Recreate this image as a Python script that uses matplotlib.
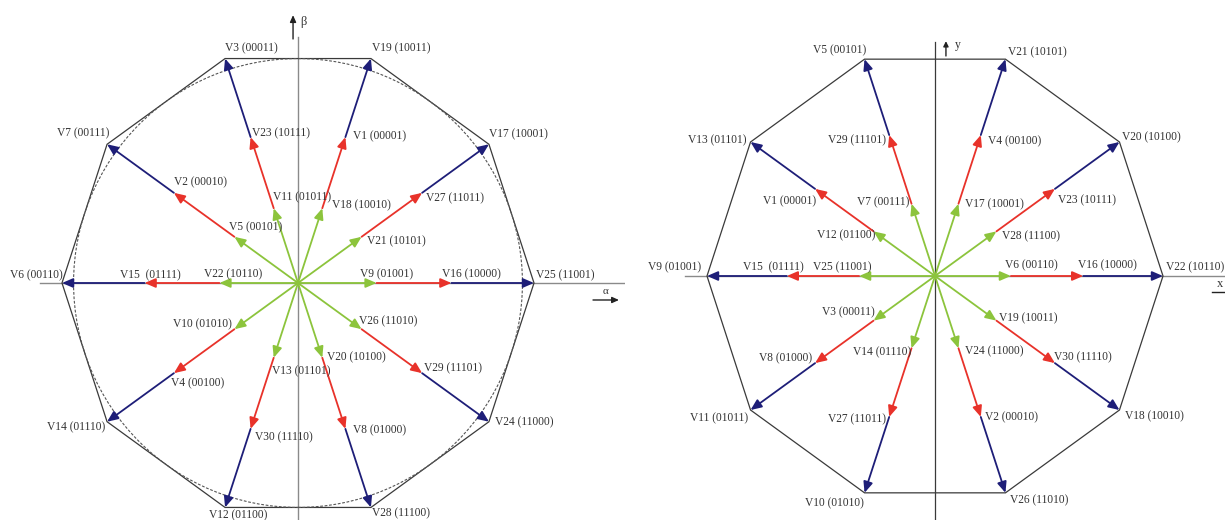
import numpy as np
import matplotlib
matplotlib.use("Agg")
import matplotlib.pyplot as plt
from matplotlib.patches import Circle, Polygon, FancyArrowPatch

# ---------------- data ----------------
angles_deg = [0, 36, 72, 108, 144, 180, 216, 252, 288, 324]
mag_large = 1.0
mag_medium = 0.65
mag_small = 0.333

ab_large = ["V25 (11001)", "V17 (10001)", "V19 (10011)", "V3 (00011)", "V7 (00111)",
            "V6 (00110)", "V14 (01110)", "V12 (01100)", "V28 (11100)", "V24 (11000)"]
ab_medium = ["V16 (10000)", "V27 (11011)", "V1 (00001)", "V23 (10111)", "V2 (00010)",
             "V15  (01111)", "V4 (00100)", "V30 (11110)", "V8 (01000)", "V29 (11101)"]
ab_small = ["V9 (01001)", "V21 (10101)", "V18 (10010)", "V11 (01011)", "V5 (00101)",
            "V22 (10110)", "V10 (01010)", "V13 (01101)", "V20 (10100)", "V26 (11010)"]

xy_large = ["V22 (10110)", "V20 (10100)", "V21 (10101)", "V5 (00101)", "V13 (01101)",
            "V9 (01001)", "V11 (01011)", "V10 (01010)", "V26 (11010)", "V18 (10010)"]
xy_medium = ["V16 (10000)", "V23 (10111)", "V4 (00100)", "V29 (11101)", "V1 (00001)",
             "V15  (01111)", "V8 (01000)", "V27 (11011)", "V2 (00010)", "V30 (11110)"]
xy_small = ["V6 (00110)", "V28 (11100)", "V17 (10001)", "V7 (00111)", "V12 (01100)",
            "V25 (11001)", "V3 (00011)", "V14 (01110)", "V24 (11000)", "V19 (10011)"]

# ---------------- layout (label offsets in pixels: left edge dx, downward dy) ----------------
ab_off_large = [(2, -8), (0, -10), (1, -10), (0, -10), (-50, -11), (-52, -8), (-60, 6), (-16, 8), (1, 6), (6, 1)]
ab_off_medium = [(-9, -9), (4, 5), (8, -1), (1, -4), (0, -11), (-25, -8), (-3, 10), (4, 8), (8, 1), (2, -5)]
ab_off_small = [(-17, -9), (5, 4), (10, -3), (-1, -11), (-5, -10), (-15, -9), (-61, -5), (-2, 14), (5, 0), (-3, -8)]

xy_off_large = [(3, -9), (3, -5), (3, -7), (-52, -9), (-63, -2), (-59, -9), (-61, 8), (-60, 10), (5, 7), (6, 6)]
xy_off_medium = [(-5, -11), (3, 11), (7, 6), (-61, 5), (-52, 12), (-44, -9), (-56, -5), (-61, 2), (4, 0), (-1, -6)]
xy_off_small = [(-6, -11), (6, 5), (7, 1), (-55, -1), (-57, 4), (-46, -9), (-52, -8), (-59, 4), (7, 3), (3, -2)]

BLUE = "#1e1e78"
RED = "#e8322a"
GREEN = "#8cc43c"
OUTLINE = "#3a3a3a"
AXIS = "#8a8a8a"
TEXT = "#333333"
FONT = "Liberation Serif"
FS = 8.3

W, H = 1225, 520
fig = plt.figure(figsize=(W / 100, H / 100), dpi=100)


def make_axes(px0, px1, cx, cy, r):
    ax = fig.add_axes([px0 / W, 0, (px1 - px0) / W, 1])
    ax.set_xlim((px0 - cx) / r, (px1 - cx) / r)
    ax.set_ylim((cy - H) / r, cy / r)
    ax.set_axis_off()
    return ax


def arrow(ax, p0, p1, color):
    a = FancyArrowPatch(p0, p1, arrowstyle="-|>,head_length=0.65,head_width=0.28",
                        mutation_scale=10, color=color, lw=1.3,
                        shrinkA=0, shrinkB=0, zorder=4)
    ax.add_patch(a)


def draw_panel(ax, labels, offsets, circle):
    th = np.deg2rad(angles_deg)
    c, s = np.cos(th), np.sin(th)
    ax.add_patch(Polygon(np.column_stack([mag_large * c, mag_large * s]), closed=True,
                         fill=False, ec=OUTLINE, lw=0.9, zorder=2))
    if circle:
        ax.add_patch(Circle((0, 0), mag_large * np.cos(np.deg2rad(18)), fill=False,
                            ec="#555555", lw=0.8, ls=(0, (2.5, 1.5)), zorder=2))
    mags = [mag_small, mag_medium, mag_large]
    cols = [GREEN, RED, BLUE]
    for i in range(len(angles_deg)):
        prev = (0.0, 0.0)
        for k in range(3):
            tip = (mags[k] * c[i], mags[k] * s[i])
            arrow(ax, prev, tip, cols[k])
            prev = tip
    for k in range(3):
        for i in range(len(angles_deg)):
            tip = (mags[k] * c[i], mags[k] * s[i])
            dx, dy = offsets[k][i]
            ax.annotate(labels[k][i], xy=tip, xytext=(dx, -dy), textcoords="offset pixels",
                        ha="left", va="center", fontsize=FS, family=FONT, color=TEXT,
                        zorder=5, annotation_clip=False)


# ---------------- left panel (alpha-beta) ----------------
axL = make_axes(0, 625, 298, 283, 236)
axL.plot([-1.093, 1.40], [0, 0], color=AXIS, lw=1.0, zorder=1)
axL.plot([0, 0], [-1.10, 1.042], color=AXIS, lw=1.0, zorder=1)
axL.annotate("", xy=(-0.021, 1.135), xytext=(-0.021, 1.034),
             arrowprops=dict(arrowstyle="-|>,head_length=0.4,head_width=0.18", color="#222222",
                             lw=1.0, shrinkA=0, shrinkB=0, mutation_scale=10))
axL.text(0.01, 1.106, "β", fontsize=9, family=FONT, color=TEXT, ha="left", va="center")
axL.annotate("", xy=(1.36, -0.072), xytext=(1.25, -0.072),
             arrowprops=dict(arrowstyle="-|>,head_length=0.4,head_width=0.18", color="#222222",
                             lw=1.0, shrinkA=0, shrinkB=0, mutation_scale=10))
axL.text(1.29, -0.036, "α", fontsize=8, family=FONT, color=TEXT, ha="left", va="center")
draw_panel(axL, [ab_small, ab_medium, ab_large], [ab_off_small, ab_off_medium, ab_off_large], True)

# ---------------- right panel (x-y) ----------------
axR = make_axes(625, 1225, 935, 276, 228)
axR.plot([-1.096, 1.40], [0, 0], color=AXIS, lw=1.0, zorder=1)
axR.plot([0, 0], [-1.10, 1.026], color=OUTLINE, lw=0.9, zorder=1)
axR.annotate("", xy=(0.048, 1.03), xytext=(0.048, 0.965),
             arrowprops=dict(arrowstyle="-|>,head_length=0.3,head_width=0.15", color="#222222",
                             lw=1.0, shrinkA=0, shrinkB=0, mutation_scale=10))
axR.text(0.085, 1.013, "y", fontsize=8.5, family=FONT, color=TEXT, ha="left", va="center")
axR.plot([1.215, 1.30], [-0.07, -0.07], color="#222222", lw=1.0)
axR.text(1.237, -0.033, "x", fontsize=9, family=FONT, color=TEXT, ha="left", va="center")
draw_panel(axR, [xy_small, xy_medium, xy_large], [xy_off_small, xy_off_medium, xy_off_large], False)

fig.savefig("out.png", dpi=100, facecolor="white")
